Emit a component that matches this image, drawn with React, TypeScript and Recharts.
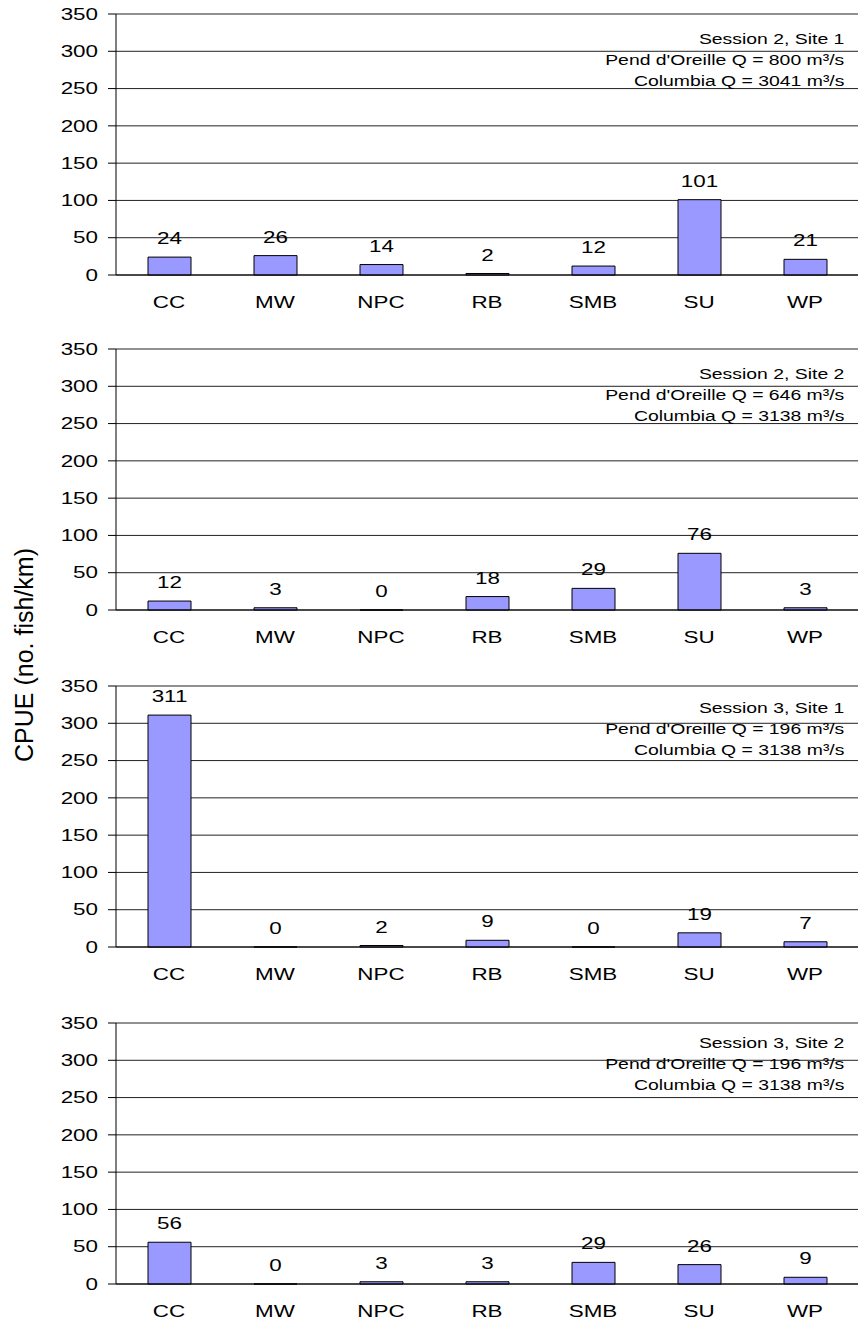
import { BarChart, Bar, XAxis, YAxis, CartesianGrid, LabelList } from 'recharts'

const species = ['CC', 'MW', 'NPC', 'RB', 'SMB', 'SU', 'WP']

const s2Site1 = [24, 26, 14, 2, 12, 101, 21]
const s2Site2 = [12, 3, 0, 18, 29, 76, 3]
const s3Site1 = [311, 0, 2, 9, 0, 19, 7]
const s3Site2 = [56, 0, 3, 3, 29, 26, 9]

const yTicks = [0, 50, 100, 150, 200, 250, 300, 350]

const sessionLabels = ['Session 2, Site 1', 'Session 2, Site 2', 'Session 3, Site 1', 'Session 3, Site 2']
const pendQ = [800, 646, 196, 196]
const columbiaQ = [3041, 3138, 3138, 3138]

const panels = [s2Site1, s2Site2, s3Site1, s3Site2]

const FONT = '"Liberation Sans", Arial, sans-serif'
const STRETCH = 1.4
const CHART_W = 859
const CHART_H = 320
const PLOT_TOP = 14
const PLOT_H = 261
const panelTops = [0, 335, 672, 1009]
const noteOffsets = [25, 25, 22, 20]

function YTick({ x, y, payload }: any) {
  return (
    <text transform={`translate(${x},${y}) scale(${STRETCH},1)`} textAnchor="end" dy="0.36em"
      fontSize={16} fontFamily={FONT} fill="#000">
      {payload.value}
    </text>
  )
}

function XTick({ x, y, payload }: any) {
  return (
    <text transform={`translate(${x},${y + 33}) scale(${STRETCH},1)`} textAnchor="middle"
      fontSize={16} fontFamily={FONT} fill="#000">
      {payload.value}
    </text>
  )
}

function ValueLabel({ x, y, width, value }: any) {
  return (
    <text transform={`translate(${x + width / 2},${y - 13}) scale(${STRETCH},1)`} textAnchor="middle"
      fontSize={16} fontFamily={FONT} fill="#000">
      {String(value)}
    </text>
  )
}

function Panel({ idx }: { idx: number }) {
  const data = species.map((s, i) => ({ name: s, v: panels[idx][i] }))
  const edges = species.map((_, i) => i).concat(species.length)
  const noteTop = panelTops[idx] + PLOT_TOP + noteOffsets[idx]
  const lines = [
    sessionLabels[idx],
    `Pend d'Oreille Q = ${pendQ[idx]} m³/s`,
    `Columbia Q = ${columbiaQ[idx]} m³/s`,
  ]
  return (
    <>
      <div style={{ position: 'absolute', left: 0, top: panelTops[idx] }}>
        <BarChart width={CHART_W} height={CHART_H} data={data}
          margin={{ top: PLOT_TOP, right: 1, bottom: CHART_H - PLOT_TOP - PLOT_H - 40, left: 0 }}>
          <CartesianGrid vertical={false} stroke="#222" xAxisId="cat" yAxisId="v" />
          <XAxis xAxisId="edges" type="number" domain={[0, species.length]} ticks={edges}
            allowDataOverflow height={0} axisLine={false} tickSize={7}
            tickLine={{ stroke: '#000' }} tickFormatter={() => ''} />
          <XAxis xAxisId="cat" dataKey="name" height={40} tickLine={false} tickSize={0} tickMargin={0}
            axisLine={{ stroke: '#000' }} tick={<XTick />} interval={0} />
          <YAxis yAxisId="v" domain={[0, 350]} ticks={yTicks} width={116} tickSize={8} tickMargin={10}
            axisLine={{ stroke: '#000' }} tickLine={{ stroke: '#000' }} tick={<YTick />} />
          <YAxis yAxisId="r" orientation="right" domain={[0, 350]} width={0} tick={false}
            tickLine={false} axisLine={{ stroke: '#888' }} />
          <Bar dataKey="v" xAxisId="cat" yAxisId="v" fill="#9999ff" stroke="#000" strokeWidth={1}
            barSize={43} minPointSize={(val: number) => (val === 0 ? 0.01 : 0)} isAnimationActive={false}>
            <LabelList dataKey="v" content={<ValueLabel />} />
          </Bar>
        </BarChart>
      </div>
      {lines.map((t, i) => (
        <div key={i} style={{
          position: 'absolute', right: CHART_W - 844, top: noteTop + i * 21 - 10, height: 20,
          lineHeight: '20px', fontSize: 15.5, fontFamily: FONT, whiteSpace: 'nowrap',
          transform: 'scaleX(1.25)', transformOrigin: 'right center', color: '#000',
        }}>{t}</div>
      ))}
    </>
  )
}

export default function App() {
  return (
    <div style={{ position: 'absolute', left: 0, top: 0, width: 859, height: 1321, background: '#fff' }}>
      {panels.map((_, i) => <Panel key={i} idx={i} />)}
      <div style={{
        position: 'absolute', left: 24, top: 655, transform: 'translate(-50%,-50%) rotate(-90deg)',
        fontSize: 25, fontFamily: FONT, whiteSpace: 'nowrap', color: '#000',
      }}>CPUE (no. fish/km)</div>
    </div>
  )
}
